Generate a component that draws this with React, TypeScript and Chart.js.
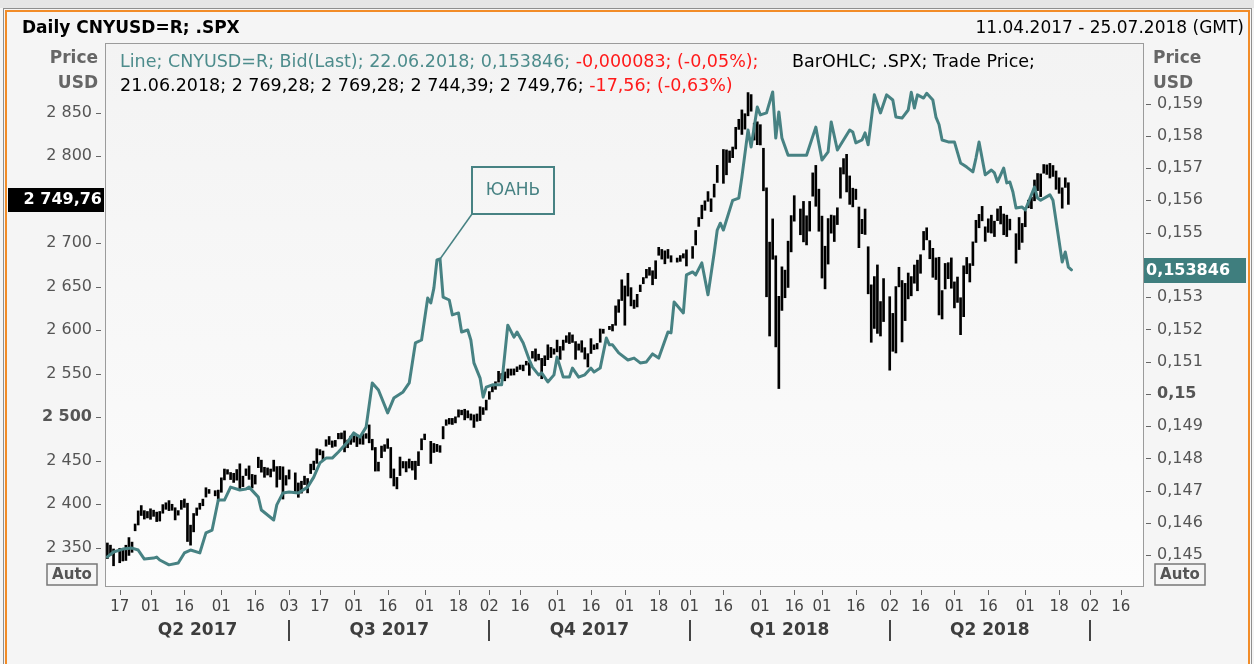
import React, { useEffect, useRef } from "react";
import { Chart, registerables } from "chart.js";
Chart.register(...registerables);

const W = 1254;
const H = 664;
const FONT = '"DejaVu Sans", Verdana, sans-serif';
const TEAL = "#478283";
const TEAL_TXT = "#4d8c8c";
const RED = "#ff1a1a";

// ---------------- DATA ----------------
// calendar
const axisStart = "2017-04-11";
const axisEnd = "2018-07-25";
const spxLastDay = "2018-06-21";
const spxHolidays = ["2017-04-14", "2017-05-29", "2017-07-04", "2017-09-04", "2017-11-23", "2017-12-25", "2018-01-01", "2018-01-15", "2018-02-19", "2018-03-30", "2018-05-28"];

// x-axis tick dates and labels
const xTickDates = ["2017-04-17", "2017-05-01", "2017-05-16", "2017-06-01", "2017-06-16", "2017-07-03", "2017-07-17", "2017-08-01", "2017-08-16", "2017-09-01", "2017-09-18", "2017-10-02", "2017-10-16", "2017-11-01", "2017-11-16", "2017-12-01", "2017-12-18", "2018-01-01", "2018-01-16", "2018-02-01", "2018-02-16", "2018-03-01", "2018-03-16", "2018-04-02", "2018-04-16", "2018-05-01", "2018-05-16", "2018-06-01", "2018-06-18", "2018-07-02", "2018-07-16"];
const quarterStarts = ["2017-07-03", "2017-10-02", "2018-01-01", "2018-04-02", "2018-07-02"];
const quarterLabels = ["Q2 2017", "Q3 2017", "Q4 2017", "Q1 2018", "Q2 2018"];

// axis ticks
const leftTicks = [2350, 2400, 2450, 2500, 2550, 2600, 2650, 2700, 2750, 2800, 2850];
const rightTicks = [0.145, 0.146, 0.147, 0.148, 0.149, 0.15, 0.151, 0.152, 0.153, 0.154, 0.155, 0.156, 0.157, 0.158, 0.159];

// .SPX daily high / low (one entry per trading day)
const spxHigh = [
  // 2017-04 (13)
  2355.2, 2352.7, 2348.3, 2349.1, 2348.4, 2352.6, 2361.4, 2356.2, 2377.0, 2392.1, 2398.2, 2392.4, 2391.4,
  // 2017-05 (22)
  2394.5, 2392.9, 2390.7, 2391.4, 2399.3, 2401.4, 2403.9, 2399.7, 2395.7, 2392.4, 2404.1, 2405.8, 2400.9, 2375.7, 2389.1, 2395.5, 2400.9, 2405.6, 2418.7, 2416.7, 2415.3, 2416.0,
  // 2017-06 (22)
  2430.1, 2440.2, 2439.5, 2436.2, 2435.3, 2439.6, 2446.2, 2432.0, 2440.4, 2443.8, 2434.0, 2433.2, 2453.8, 2450.4, 2442.2, 2441.5, 2440.2, 2450.4, 2443.0, 2443.2, 2442.7, 2432.7,
  // 2017-07 (20)
  2439.2, 2435.8, 2424.2, 2426.2, 2432.0, 2429.3, 2445.8, 2449.3, 2463.5, 2462.5, 2460.9, 2473.8, 2477.6, 2472.5, 2473.1, 2481.2, 2481.7, 2484.0, 2473.5, 2478.0,
  // 2017-08 (23)
  2478.5, 2480.0, 2476.9, 2480.4, 2480.9, 2490.9, 2474.4, 2465.0, 2448.1, 2466.6, 2468.2, 2474.9, 2465.0, 2440.3, 2430.6, 2454.0, 2448.9, 2448.8, 2451.7, 2449.1, 2449.2, 2460.1, 2475.0,
  // 2017-09 (20)
  2480.4, 2472.0, 2469.6, 2468.6, 2467.1, 2489.0, 2496.8, 2498.4, 2498.4, 2500.2, 2508.3, 2507.8, 2508.9, 2507.2, 2503.5, 2502.5, 2503.5, 2511.8, 2510.8, 2519.4,
  // 2017-10 (22)
  2529.2, 2535.1, 2540.5, 2552.5, 2550.0, 2551.8, 2555.2, 2555.2, 2555.3, 2557.7, 2559.7, 2559.7, 2564.1, 2562.4, 2575.4, 2578.3, 2572.2, 2567.4, 2570.4, 2583.0, 2580.0, 2578.3,
  // 2017-11 (21)
  2588.4, 2581.1, 2588.4, 2593.4, 2597.0, 2594.4, 2586.7, 2584.0, 2587.7, 2579.7, 2572.8, 2590.1, 2583.0, 2584.6, 2601.2, 2600.9, 2604.2, 2606.4, 2627.7, 2634.9, 2657.7,
  // 2017-12 (20)
  2650.6, 2665.2, 2648.7, 2634.4, 2641.0, 2651.7, 2660.3, 2669.7, 2671.9, 2668.1, 2679.6, 2695.0, 2692.6, 2691.0, 2692.6, 2685.4, 2682.7, 2685.6, 2687.7, 2692.1,
  // 2018-01 (21)
  2695.9, 2714.4, 2729.3, 2743.5, 2748.5, 2759.1, 2750.8, 2767.6, 2789.3, 2807.5, 2807.0, 2805.8, 2810.3, 2833.0, 2842.2, 2853.0, 2848.6, 2872.9, 2870.6, 2837.8, 2839.3,
  // 2018-02 (19)
  2836.0, 2808.9, 2763.4, 2701.0, 2727.7, 2685.3, 2638.7, 2672.6, 2668.8, 2702.1, 2731.5, 2754.4, 2739.1, 2747.8, 2731.3, 2747.8, 2780.6, 2789.2, 2761.9,
  // 2018-03 (21)
  2730.9, 2696.3, 2728.1, 2732.1, 2731.4, 2740.5, 2786.6, 2797.0, 2801.9, 2777.1, 2763.0, 2761.9, 2741.4, 2727.2, 2739.1, 2695.7, 2651.9, 2661.4, 2674.8, 2632.7, 2659.1,
  // 2018-04 (21)
  2638.3, 2619.1, 2649.9, 2672.1, 2656.9, 2653.6, 2665.5, 2661.4, 2674.7, 2680.3, 2686.5, 2713.3, 2717.5, 2702.8, 2693.9, 2682.9, 2683.6, 2645.3, 2676.5, 2677.4, 2682.9,
  // 2018-05 (22)
  2655.3, 2660.9, 2637.1, 2673.8, 2683.4, 2676.3, 2701.3, 2726.1, 2732.9, 2742.1, 2718.6, 2727.8, 2732.0, 2725.1, 2739.2, 2742.2, 2733.3, 2732.0, 2727.4, 2710.7, 2729.3, 2722.5,
  // 2018-06 (15)
  2736.9, 2749.2, 2752.6, 2772.4, 2779.9, 2779.4, 2790.2, 2789.8, 2791.5, 2789.1, 2782.8, 2775.0, 2763.4, 2774.9, 2769.28,
];
const spxLow = [
  // 2017-04
  2337.3, 2341.2, 2329.0, 2332.5, 2334.5, 2335.1, 2340.9, 2344.5, 2369.2, 2375.9, 2386.8, 2382.7, 2384.0,
  // 2017-05
  2382.4, 2385.8, 2379.8, 2380.4, 2389.4, 2393.9, 2392.4, 2392.8, 2381.7, 2387.2, 2393.9, 2396.1, 2356.9, 2352.7, 2368.0, 2386.9, 2393.9, 2398.0, 2408.0, 2412.2, 2409.4, 2403.6,
  // 2017-06
  2413.5, 2427.7, 2434.3, 2428.1, 2424.8, 2427.4, 2415.7, 2420.0, 2432.7, 2428.3, 2418.5, 2422.9, 2441.8, 2436.6, 2430.7, 2433.3, 2431.1, 2437.6, 2419.4, 2428.2, 2405.7, 2421.7,
  // 2017-07
  2428.7, 2413.4, 2407.7, 2412.5, 2422.3, 2412.8, 2435.0, 2439.3, 2446.7, 2456.5, 2450.3, 2466.5, 2468.4, 2465.1, 2466.3, 2474.9, 2474.9, 2459.9, 2464.7, 2468.5,
  // 2017-08
  2471.1, 2466.0, 2468.9, 2468.6, 2475.5, 2470.3, 2462.1, 2437.8, 2437.9, 2453.2, 2460.5, 2463.9, 2430.0, 2420.7, 2417.4, 2432.7, 2441.4, 2436.9, 2441.3, 2439.0, 2428.2, 2444.1, 2462.3,
  // 2017-09
  2473.9, 2446.6, 2459.2, 2460.3, 2459.4, 2474.9, 2490.4, 2491.9, 2491.4, 2493.2, 2499.9, 2502.5, 2496.7, 2499.0, 2496.5, 2488.0, 2495.1, 2495.9, 2502.9, 2508.0,
  // 2017-10
  2520.4, 2528.9, 2531.8, 2540.0, 2543.8, 2541.6, 2544.9, 2548.0, 2548.3, 2552.1, 2554.7, 2553.1, 2559.7, 2547.9, 2567.6, 2564.3, 2565.6, 2544.0, 2559.0, 2565.9, 2568.3, 2572.2,
  // 2017-11
  2574.9, 2566.2, 2576.8, 2585.7, 2584.4, 2585.7, 2566.3, 2576.8, 2574.5, 2566.6, 2557.5, 2573.0, 2577.5, 2578.2, 2585.9, 2596.2, 2600.5, 2598.9, 2605.4, 2620.3, 2633.9,
  // 2017-12
  2605.5, 2639.0, 2627.7, 2624.8, 2626.5, 2644.1, 2653.2, 2659.8, 2662.9, 2652.0, 2659.1, 2685.9, 2681.5, 2676.1, 2682.4, 2678.1, 2678.0, 2678.9, 2682.7, 2673.6,
  // 2018-01
  2682.4, 2697.8, 2719.1, 2727.9, 2737.6, 2747.9, 2736.1, 2752.8, 2769.6, 2768.6, 2778.4, 2792.6, 2798.1, 2808.1, 2830.6, 2824.8, 2830.9, 2846.2, 2851.5, 2818.3, 2813.0,
  // 2018-02
  2812.7, 2760.0, 2638.2, 2593.1, 2681.3, 2580.6, 2532.7, 2622.5, 2637.1, 2648.9, 2689.8, 2725.1, 2709.5, 2701.3, 2697.8, 2713.7, 2753.8, 2742.2, 2713.5,
  // 2018-03
  2659.7, 2647.3, 2675.8, 2711.3, 2701.7, 2721.2, 2751.5, 2779.3, 2758.7, 2744.4, 2741.5, 2750.0, 2694.6, 2710.7, 2709.8, 2641.6, 2585.9, 2601.8, 2596.1, 2593.1, 2609.7,
  // 2018-04
  2553.8, 2575.5, 2573.6, 2649.6, 2586.3, 2610.8, 2635.8, 2639.3, 2653.8, 2645.1, 2665.2, 2692.1, 2703.6, 2681.9, 2660.6, 2658.0, 2617.3, 2612.7, 2647.2, 2659.0, 2648.0,
  // 2018-05
  2625.4, 2631.7, 2594.6, 2615.3, 2664.7, 2655.2, 2674.1, 2700.6, 2717.5, 2725.5, 2701.9, 2712.2, 2711.4, 2707.4, 2725.7, 2721.9, 2709.5, 2707.4, 2715.0, 2676.8, 2692.5, 2700.7,
  // 2018-06
  2718.7, 2740.5, 2739.5, 2748.5, 2760.2, 2753.3, 2780.2, 2778.8, 2774.7, 2776.5, 2761.7, 2757.1, 2740.0, 2763.9, 2744.39,
];
const spxLastClose = 2749.76;

// CNYUSD=R (Bid, last)
const cnyDates = [
  "2017-04-11", "2017-04-13", "2017-04-18", "2017-04-21", "2017-04-25", "2017-04-27", "2017-05-02", "2017-05-03", "2017-05-04", "2017-05-09",
  "2017-05-12", "2017-05-16", "2017-05-18", "2017-05-23", "2017-05-25", "2017-05-29", "2017-05-31", "2017-06-02", "2017-06-06", "2017-06-09",
  "2017-06-13", "2017-06-14", "2017-06-19", "2017-06-20", "2017-06-26", "2017-06-27", "2017-06-29", "2017-07-03", "2017-07-06", "2017-07-11",
  "2017-07-13", "2017-07-17", "2017-07-19", "2017-07-21", "2017-07-25", "2017-07-28", "2017-08-01", "2017-08-03", "2017-08-07", "2017-08-09",
  "2017-08-11", "2017-08-16", "2017-08-18", "2017-08-23", "2017-08-25", "2017-08-29", "2017-08-31", "2017-09-04", "2017-09-05", "2017-09-06",
  "2017-09-07", "2017-09-08", "2017-09-11", "2017-09-13", "2017-09-14", "2017-09-18", "2017-09-19", "2017-09-21", "2017-09-22", "2017-09-25",
  "2017-09-27", "2017-09-28", "2017-09-29", "2017-10-03", "2017-10-06", "2017-10-10", "2017-10-12", "2017-10-13", "2017-10-17", "2017-10-19",
  "2017-10-20", "2017-10-24", "2017-10-25", "2017-10-27", "2017-10-31", "2017-11-01", "2017-11-03", "2017-11-07", "2017-11-08", "2017-11-10",
  "2017-11-14", "2017-11-16", "2017-11-17", "2017-11-21", "2017-11-23", "2017-11-24", "2017-11-27", "2017-11-29", "2017-12-04", "2017-12-06",
  "2017-12-08", "2017-12-12", "2017-12-14", "2017-12-18", "2017-12-21", "2017-12-22", "2017-12-25", "2017-12-28", "2017-12-29", "2018-01-02",
  "2018-01-03", "2018-01-05", "2018-01-09", "2018-01-11", "2018-01-12", "2018-01-15", "2018-01-16", "2018-01-19", "2018-01-23", "2018-01-24",
  "2018-01-26", "2018-01-29", "2018-01-31", "2018-02-01", "2018-02-05", "2018-02-07", "2018-02-08", "2018-02-09", "2018-02-12", "2018-02-14",
  "2018-02-22", "2018-02-27", "2018-03-01", "2018-03-05", "2018-03-06", "2018-03-08", "2018-03-12", "2018-03-14", "2018-03-15", "2018-03-16",
  "2018-03-20", "2018-03-21", "2018-03-22", "2018-03-26", "2018-03-28", "2018-03-30", "2018-04-03", "2018-04-04", "2018-04-06", "2018-04-10",
  "2018-04-11", "2018-04-12", "2018-04-13", "2018-04-17", "2018-04-18", "2018-04-20", "2018-04-23", "2018-04-24", "2018-04-25", "2018-04-27",
  "2018-05-01", "2018-05-03", "2018-05-07", "2018-05-09", "2018-05-10", "2018-05-11", "2018-05-15", "2018-05-17", "2018-05-18", "2018-05-21",
  "2018-05-23", "2018-05-24", "2018-05-25", "2018-05-28", "2018-05-29", "2018-05-31", "2018-06-01", "2018-06-06", "2018-06-07", "2018-06-08",
  "2018-06-13", "2018-06-14", "2018-06-19", "2018-06-20", "2018-06-21", "2018-06-22",
];
const cnyValues = [
  0.14495, 0.14510, 0.14519, 0.14522, 0.14516, 0.14488, 0.14491, 0.14494, 0.14485, 0.14470,
  0.14476, 0.14507, 0.14516, 0.14507, 0.14569, 0.14578, 0.14671, 0.14671, 0.14711, 0.14702,
  0.14705, 0.14711, 0.14680, 0.14640, 0.14609, 0.14656, 0.14693, 0.14696, 0.14693, 0.14711,
  0.14742, 0.14786, 0.14801, 0.14801, 0.14820, 0.14851, 0.14879, 0.14866, 0.14897, 0.15034,
  0.15012, 0.14941, 0.14987, 0.15006, 0.15034, 0.15158, 0.15167, 0.15297, 0.15282, 0.15328,
  0.15415, 0.15418, 0.15300, 0.15291, 0.15245, 0.15251, 0.15192, 0.15198, 0.15167, 0.15096,
  0.15049, 0.14990, 0.15021, 0.15028, 0.15028, 0.15213, 0.15176, 0.15192, 0.15158, 0.15105,
  0.15083, 0.15059, 0.15065, 0.15037, 0.15059, 0.15114, 0.15052, 0.15052, 0.15080, 0.15052,
  0.15059, 0.15080, 0.15068, 0.15080, 0.15173, 0.15152, 0.15152, 0.15127, 0.15105, 0.15111,
  0.15096, 0.15099, 0.15124, 0.15111, 0.15192, 0.15189, 0.15285, 0.15251, 0.15369, 0.15378,
  0.15369, 0.15406, 0.15307, 0.15437, 0.15508, 0.15529, 0.15508, 0.15600, 0.15607, 0.15672,
  0.15818, 0.15765, 0.15889, 0.15865, 0.15871, 0.15936, 0.15793, 0.15874, 0.15793, 0.15740,
  0.15740, 0.15827, 0.15725, 0.15750, 0.15843, 0.15756, 0.15787, 0.15818, 0.15812, 0.15778,
  0.15787, 0.15809, 0.15772, 0.15927, 0.15871, 0.15927, 0.15911, 0.15858, 0.15855, 0.15880,
  0.15935, 0.15886, 0.15927, 0.15917, 0.15932, 0.15911, 0.15858, 0.15835, 0.15787, 0.15781,
  0.15781, 0.15716, 0.15703, 0.15688, 0.15731, 0.15781, 0.15679, 0.15694, 0.15685, 0.15657,
  0.15700, 0.15654, 0.15657, 0.15626, 0.15576, 0.15579, 0.15570, 0.15641, 0.15607, 0.15600,
  0.15617, 0.15600, 0.15409, 0.15440, 0.153929, 0.153846,
];

// ---------------- helpers ----------------
const DAY = 86400000;
function parseDay(s: string): number {
  const [y, m, d] = s.split("-").map(Number);
  return Date.UTC(y, m - 1, d);
}
const START_T = parseDay(axisStart);
// index of a weekday counted from the first day of the axis (weekends skipped)
function dayIndex(s: string): number {
  const days = Math.round((parseDay(s) - START_T) / DAY);
  const off = days + 1; // offset from the Monday before the start (start is a Tuesday)
  const weeks = Math.floor(off / 7);
  const rem = off % 7;
  return weeks * 5 + Math.min(rem, 5) - 1;
}
function spxTradingDays(): string[] {
  const out: string[] = [];
  const end = parseDay(spxLastDay);
  for (let t = START_T; t <= end; t += DAY) {
    const d = new Date(t);
    const wd = d.getUTCDay();
    if (wd === 0 || wd === 6) continue;
    const s = d.toISOString().slice(0, 10);
    if (spxHolidays.includes(s)) continue;
    out.push(s);
  }
  return out;
}
const fmtThousands = (v: number, dec: number) => {
  const [i, f] = v.toFixed(dec).split(".");
  const ii = i.replace(/\B(?=(\d{3})+(?!\d))/g, " ");
  return f ? ii + "," + f : ii;
};
const fmtRight = (v: number) => String(+v.toFixed(3)).replace(".", ",");

const spxDays = spxTradingDays();
const barData = spxDays.map((d, i) => ({ x: dayIndex(d), y: [spxLow[i], spxHigh[i]] }));
const lineData = cnyDates.map((d, i) => ({ x: dayIndex(d), y: cnyValues[i] }));
const cnyLast = cnyValues[cnyValues.length - 1];
const xTickIdx = xTickDates.map(dayIndex);
const xTickLabel = new Map<number, string>(xTickIdx.map((v, i) => [v, xTickDates[i].slice(8)]));
const X_MAX_IDX = dayIndex(axisEnd);

const decor = {
  id: "decor",
  beforeDraw(chart: any) {
    const { ctx, chartArea: a } = chart;
    ctx.save();
    ctx.fillStyle = "#f5f5f5";
    ctx.fillRect(0, 0, W, H);
    ctx.fillStyle = "#e6e6e6";
    ctx.fillRect(0, 0, W, 8);
    ctx.strokeStyle = "#8f8f8f";
    ctx.lineWidth = 1;
    ctx.strokeRect(3.5, 8.5, W - 6, H + 20);
    ctx.strokeStyle = "#f28c28";
    ctx.lineWidth = 2;
    ctx.strokeRect(6, 11, W - 11, H + 20);
    const g = ctx.createLinearGradient(0, a.top, 0, a.bottom);
    g.addColorStop(0, "#f3f3f3");
    g.addColorStop(1, "#fcfcfc");
    ctx.fillStyle = g;
    ctx.fillRect(a.left, a.top, a.right - a.left, a.bottom - a.top);
    ctx.restore();
  },
  afterDraw(chart: any) {
    const { ctx, chartArea: a, scales } = chart;
    const x = scales.x, yL = scales.yL, yR = scales.yR;
    ctx.save();
    // plot frame
    ctx.strokeStyle = "#9b9b9b";
    ctx.lineWidth = 1;
    ctx.strokeRect(a.left - 0.5, a.top - 0.5, a.right - a.left + 1, a.bottom - a.top + 1);

    // tick marks
    ctx.strokeStyle = "#666";
    ctx.beginPath();
    for (const v of leftTicks) {
      const y = Math.round(yL.getPixelForValue(v)) + 0.5;
      ctx.moveTo(a.left - 10, y); ctx.lineTo(a.left - 5, y);
    }
    for (const v of rightTicks) {
      const y = Math.round(yR.getPixelForValue(v)) + 0.5;
      ctx.moveTo(a.right + 3, y); ctx.lineTo(a.right + 8, y);
    }
    for (const v of xTickIdx) {
      const px = Math.round(x.getPixelForValue(v)) + 0.5;
      ctx.moveTo(px, a.bottom + 4); ctx.lineTo(px, a.bottom + 9);
    }
    ctx.stroke();

    // quarters
    ctx.strokeStyle = "#444";
    ctx.lineWidth = 2;
    const qx = quarterStarts.map((d) => x.getPixelForValue(dayIndex(d)));
    ctx.beginPath();
    for (const px of qx) {
      const p = Math.round(px);
      ctx.moveTo(p, a.bottom + 34); ctx.lineTo(p, a.bottom + 55);
    }
    ctx.stroke();
    ctx.fillStyle = "#3d3d3d";
    ctx.font = `bold 17px ${FONT}`;
    ctx.textAlign = "center";
    ctx.textBaseline = "middle";
    const bounds = [a.left, ...qx];
    quarterLabels.forEach((q, i) => {
      ctx.fillText(q, (bounds[i] + bounds[i + 1]) / 2, a.bottom + 45);
    });

    // title & range
    ctx.textAlign = "left";
    ctx.fillStyle = "#000";
    ctx.font = `bold 17px ${FONT}`;
    ctx.fillText("Daily CNYUSD=R; .SPX", 22, 29);
    ctx.textAlign = "right";
    ctx.font = `17px ${FONT}`;
    ctx.fillText("11.04.2017 - 25.07.2018 (GMT)", 1244, 29);

    // axis titles
    ctx.fillStyle = "#666";
    ctx.font = `bold 17px ${FONT}`;
    ctx.textAlign = "right";
    ctx.fillText("Price", 98, 59);
    ctx.fillText("USD", 98, 84);
    ctx.textAlign = "left";
    ctx.fillText("Price", 1153, 59);
    ctx.fillText("USD", 1153, 84);

    // legend lines
    ctx.font = `17.5px ${FONT}`;
    const segs = (sx: number, sy: number, parts: [string, string][]) => {
      let cx = sx;
      for (const [t, c] of parts) {
        ctx.fillStyle = c;
        ctx.fillText(t, cx, sy);
        cx += ctx.measureText(t).width;
      }
    };
    segs(120, 62, [["Line; CNYUSD=R; Bid(Last); 22.06.2018; 0,153846; ", TEAL_TXT], ["-0,000083; (-0,05%);", RED]]);
    segs(792, 62, [["BarOHLC; .SPX; Trade Price;", "#000"]]);
    segs(120, 86, [["21.06.2018; 2 769,28; 2 769,28; 2 744,39; 2 749,76; ", "#000"], ["-17,56; (-0,63%)", RED]]);

    // last value tags
    const ly = yL.getPixelForValue(spxLastClose);
    ctx.fillStyle = "#000";
    ctx.fillRect(8, Math.round(ly) - 12, a.left - 10, 24);
    ctx.fillStyle = "#fff";
    ctx.font = `bold 16px ${FONT}`;
    ctx.textAlign = "right";
    ctx.fillText(fmtThousands(spxLastClose, 2), a.left - 4, ly);
    const ry = yR.getPixelForValue(cnyLast);
    ctx.fillStyle = "#3f7e7e";
    ctx.fillRect(a.right + 1, Math.round(ry) - 12, 102, 25);
    ctx.fillStyle = "#fff";
    ctx.textAlign = "left";
    ctx.fillText(String(cnyLast).replace(".", ","), a.right + 3, ry + 1);

    // Auto boxes
    ctx.strokeStyle = "#777";
    ctx.lineWidth = 1.5;
    ctx.font = `bold 15px ${FONT}`;
    ctx.fillStyle = "#555";
    ctx.textAlign = "center";
    for (const bx of [47, 1155]) {
      ctx.strokeRect(bx, 564, 50, 21);
      ctx.fillText("Auto", bx + 25, 575);
    }

    // annotation
    let pk = 0;
    lineData.forEach((p, i) => { if (p.x < 150 && p.y > lineData[pk].y) pk = i; });
    const px = x.getPixelForValue(lineData[pk].x);
    const py = yR.getPixelForValue(lineData[pk].y);
    ctx.strokeStyle = TEAL;
    ctx.lineWidth = 1.5;
    ctx.beginPath();
    ctx.moveTo(472, 214);
    ctx.lineTo(px, py);
    ctx.stroke();
    ctx.lineWidth = 2;
    ctx.strokeRect(472, 167, 82, 47);
    ctx.fillStyle = TEAL;
    ctx.font = `17px ${FONT}`;
    ctx.textAlign = "center";
    ctx.fillText("ЮАНЬ", 513, 191);
    ctx.restore();
  },
};

export default function App() {
  const ref = useRef<HTMLCanvasElement>(null);
  useEffect(() => {
    const chart = new Chart(ref.current as HTMLCanvasElement, {
      type: "bar",
      data: {
        datasets: [
          {
            type: "line",
            label: "CNYUSD=R",
            data: lineData as any,
            yAxisID: "yR",
            xAxisID: "x",
            borderColor: TEAL,
            borderWidth: 3,
            pointRadius: 0,
            tension: 0,
            borderJoinStyle: "round",
            borderCapStyle: "round",
            order: 0,
          } as any,
          {
            type: "bar",
            label: ".SPX",
            data: barData as any,
            yAxisID: "yL",
            xAxisID: "x",
            backgroundColor: "#000",
            borderWidth: 0,
            barThickness: 2,
            order: 1,
          } as any,
        ],
      },
      options: {
        responsive: false,
        animation: false,
        devicePixelRatio: 1,
        events: [],
        layout: { padding: { top: 44, left: 0, right: 0, bottom: 0 } },
        plugins: { legend: { display: false }, tooltip: { enabled: false }, title: { display: false } },
        scales: {
          x: {
            type: "linear",
            position: "bottom",
            min: -0.45,
            max: X_MAX_IDX + 0.23,
            offset: false,
            grid: { display: false, drawTicks: false },
            border: { display: false },
            afterBuildTicks: (s: any) => { s.ticks = xTickIdx.map((v) => ({ value: v })); },
            afterFit: (s: any) => { s.height = 78; },
            ticks: {
              autoSkip: false,
              maxRotation: 0,
              padding: 12,
              color: "#444",
              font: { family: FONT, size: 15 },
              callback: (v: any) => xTickLabel.get(Number(v)) ?? "",
            },
          },
          yL: {
            type: "linear",
            position: "left",
            min: 2305.75,
            max: 2928.74,
            grid: { display: false, drawTicks: false },
            border: { display: false },
            afterBuildTicks: (s: any) => { s.ticks = leftTicks.map((v) => ({ value: v })); },
            afterFit: (s: any) => { s.width = 106; },
            ticks: {
              padding: 14,
              color: "#555",
              font: (c: any) => ({ family: FONT, size: 16, weight: c.tick && c.tick.value === 2500 ? "bold" : "normal" }),
              callback: (v: any) => (Math.abs(Number(v) - spxLastClose) < 15 ? "" : fmtThousands(Number(v), 0)),
            },
          },
          yR: {
            type: "linear",
            position: "right",
            min: 0.144045,
            max: 0.160846,
            grid: { display: false, drawTicks: false },
            border: { display: false },
            afterBuildTicks: (s: any) => { s.ticks = rightTicks.map((v) => ({ value: v })); },
            afterFit: (s: any) => { s.width = 111; },
            ticks: {
              padding: 14,
              color: "#555",
              font: (c: any) => ({ family: FONT, size: 16, weight: c.tick && Math.abs(c.tick.value - 0.15) < 1e-9 ? "bold" : "normal" }),
              callback: (v: any) => (Math.abs(Number(v) - cnyLast) < 0.0004 ? "" : fmtRight(Number(v))),
            },
          },
        },
      } as any,
      plugins: [decor],
    });
    return () => chart.destroy();
  }, []);
  return (
    <div style={{ position: "fixed", left: 0, top: 0, width: W, height: H }}>
      <canvas ref={ref} width={W} height={H} style={{ width: W, height: H, display: "block" }} />
    </div>
  );
}
